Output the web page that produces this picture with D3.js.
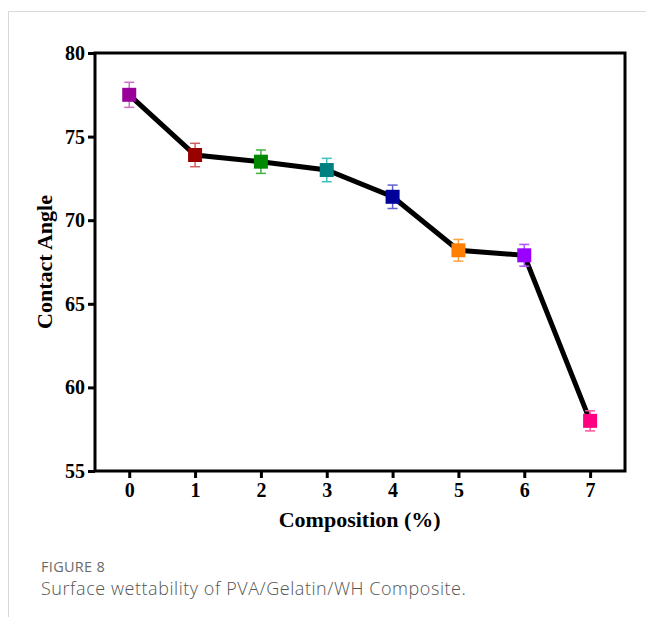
<!DOCTYPE html>
<html><head><meta charset="utf-8">
<script src="https://cdn.jsdelivr.net/npm/d3@7/dist/d3.min.js"></script>
<style>body{margin:0;background:#fff;} svg{display:block;}</style>
</head><body>
<svg id="c" width="646" height="617"></svg>
<script>
const compositions = [0, 1, 2, 3, 4, 5, 6, 7];
const contactAngle = [77.5, 73.9, 73.5, 73.0, 71.4, 68.2, 67.9, 58.0];
const errors = [0.75, 0.7, 0.7, 0.7, 0.7, 0.65, 0.65, 0.6];
const markerColors = ["#990099", "#990000", "#008800", "#008080", "#000099", "#ff8000", "#9900ff", "#ff0080"];
const errColors = ["#d070c8", "#d06060", "#40b040", "#40c0c0", "#6060d0", "#ffa040", "#b050ff", "#ff50a0"];
const yTicks = [55, 60, 65, 70, 75, 80];

const svg = d3.select("#c");
const L = 95, R = 625, T = 53, B = 471;
const x = d3.scaleLinear().domain([-0.52, 7.53]).range([L, R]);
const y = d3.scaleLinear().domain([55, 80]).range([B, T]);

// page frame
svg.append("line").attr("x1", 8.5).attr("x2", 646).attr("y1", 11.5).attr("y2", 11.5).attr("stroke", "#d8d8d8").attr("stroke-width", 1);
svg.append("line").attr("x1", 8.5).attr("x2", 8.5).attr("y1", 11.5).attr("y2", 617).attr("stroke", "#d8d8d8").attr("stroke-width", 1);

const serif = "'Liberation Serif','Times New Roman',serif";

// axes
const yAxis = svg.append("g").attr("transform", `translate(${L},0)`)
  .call(d3.axisLeft(y).tickValues(yTicks).tickSize(7).tickPadding(3));
const xAxis = svg.append("g").attr("transform", `translate(0,${B})`)
  .call(d3.axisBottom(x).tickValues(compositions).tickSize(7).tickPadding(5));
[yAxis, xAxis].forEach(g => {
  g.select(".domain").remove();
  g.selectAll(".tick line").attr("stroke", "#000").attr("stroke-width", 3);
  g.selectAll(".tick text").attr("font-family", serif).attr("font-weight", "bold").attr("font-size", 20).attr("fill", "#000");
});

// frame
svg.append("rect").attr("x", L).attr("y", T).attr("width", R - L).attr("height", B - T)
  .attr("fill", "none").attr("stroke", "#000").attr("stroke-width", 3);

// line
const data = compositions.map((c, i) => ({c, v: contactAngle[i], e: errors[i], col: markerColors[i], ec: errColors[i]}));
svg.append("path").datum(data)
  .attr("d", d3.line().x(d => x(d.c)).y(d => y(d.v)))
  .attr("fill", "none").attr("stroke", "#000").attr("stroke-width", 5);

// error bars
const eb = svg.append("g");
data.forEach(d => {
  const cx = x(d.c);
  eb.append("line").attr("x1", cx).attr("x2", cx).attr("y1", y(d.v + d.e)).attr("y2", y(d.v - d.e)).attr("stroke", d.ec).attr("stroke-width", 1.5);
  [d.v + d.e, d.v - d.e].forEach(v => {
    eb.append("line").attr("x1", cx - 5).attr("x2", cx + 5).attr("y1", y(v)).attr("y2", y(v)).attr("stroke", d.ec).attr("stroke-width", 1.5);
  });
});

// markers
svg.append("g").selectAll("rect").data(data).join("rect")
  .attr("x", d => x(d.c) - 7).attr("y", d => y(d.v) - 7)
  .attr("width", 14).attr("height", 14)
  .attr("fill", d => d.col);

// axis labels
svg.append("text").attr("x", x(3.5)).attr("y", 527).attr("text-anchor", "middle")
  .attr("font-family", serif).attr("font-weight", "bold").attr("font-size", 22).text("Composition (%)");
svg.append("text").attr("transform", `translate(52,${(T + B) / 2}) rotate(-90)`).attr("text-anchor", "middle")
  .attr("font-family", serif).attr("font-weight", "bold").attr("font-size", 22).text("Contact Angle");

// caption
const sans = "'Open Sans','Noto Sans',sans-serif";
svg.append("text").attr("x", 41).attr("y", 572).attr("font-family", sans).attr("font-size", 14.5).attr("letter-spacing", 0.3).attr("fill", "#6b6b6b").text("FIGURE 8");
svg.append("text").attr("x", 41).attr("y", 595).attr("font-family", sans).attr("font-weight", 300).attr("font-size", 18).attr("letter-spacing", 0.55).attr("fill", "#555").text("Surface wettability of PVA/Gelatin/WH Composite.");
</script>
</body></html>
